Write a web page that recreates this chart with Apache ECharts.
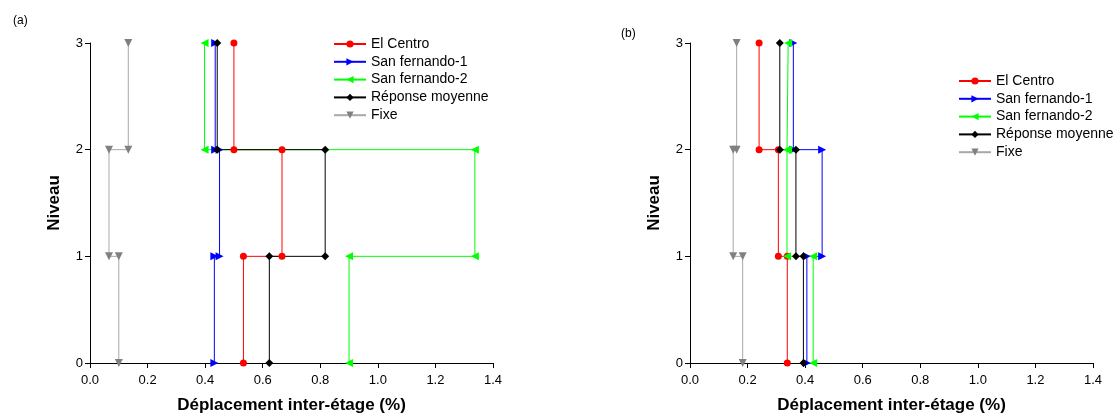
<!DOCTYPE html>
<html><head><meta charset="utf-8">
<script src="https://cdn.jsdelivr.net/npm/echarts@6/dist/echarts.min.js"></script>
<style>html,body{margin:0;padding:0;background:#fff}#c{width:1118px;height:416px}</style>
</head><body><div id="c"></div>
<script>
// Levels (floors) and legend names
const levels = [0, 1, 2, 3];
const seriesNames = ['El Centro', 'San fernando-1', 'San fernando-2', 'Réponse moyenne', 'Fixe'];
const xTickValues = [0, 0.2, 0.4, 0.6, 0.8, 1.0, 1.2, 1.4];

// Panel (a): inter-story drift (%) for stories 1, 2, 3
const a_elCentro = [0.533, 0.667, 0.500];
const a_sanFernando1 = [0.432, 0.450, 0.435];
const a_sanFernando2 = [0.900, 1.337, 0.398];
const a_moyenne = [0.623, 0.817, 0.442];
const a_fixe = [0.100, 0.066, 0.133];

// Panel (b): inter-story drift (%) for stories 1, 2, 3
const b_elCentro = [0.338, 0.307, 0.240];
const b_sanFernando1 = [0.406, 0.459, 0.359];
const b_sanFernando2 = [0.428, 0.337, 0.341];
const b_moyenne = [0.394, 0.368, 0.312];
const b_fixe = [0.183, 0.150, 0.162];

const styles = [
  {line: '#ff0000', mark: '#ff0000', symbol: 'circle', size: 7},
  {line: '#0000ff', mark: '#0000ff', symbol: 'path://M0,0 L10,5 L0,10 Z', size: 8},
  {line: '#00ff00', mark: '#00ff00', symbol: 'path://M10,0 L0,5 L10,10 Z', size: 8},
  {line: '#000000', mark: '#000000', symbol: 'path://M5,0 L10,5 L5,10 L0,5 Z', size: 8},
  {line: '#a8a8a8', mark: '#808080', symbol: 'path://M0,0 L10,0 L5,10 Z', size: 8}
];

function stepPoints(drifts) {
  const pts = [];
  for (let i = 0; i < drifts.length; i++) {
    pts.push([drifts[i], levels[i]]);
    pts.push([drifts[i], levels[i + 1]]);
  }
  return pts;
}

const panelData = [
  [a_elCentro, a_sanFernando1, a_sanFernando2, a_moyenne, a_fixe],
  [b_elCentro, b_sanFernando1, b_sanFernando2, b_moyenne, b_fixe]
];

const series = [];
panelData.forEach((arrs, p) => {
  arrs.forEach((d, k) => {
    const s = styles[k];
    series.push({
      type: 'line', name: seriesNames[k], xAxisIndex: p, yAxisIndex: p,
      data: stepPoints(d), symbol: s.symbol, symbolSize: s.size, showSymbol: true,
      lineStyle: {color: s.line, width: 1}, itemStyle: {color: s.mark},
      animation: false, clip: false, z: 2
    });
  });
});

const font = 'Arial, "Liberation Sans", Helvetica, sans-serif';
function xAxis(grid) {
  return {
    type: 'value', gridIndex: grid, min: 0, max: 1.4, interval: 0.2,
    name: 'Déplacement inter-étage (%)', nameLocation: 'middle', nameGap: 34,
    nameTextStyle: {fontFamily: font, fontWeight: 'bold', fontSize: 17, color: '#000'},
    axisLine: {show: true, onZero: false, lineStyle: {color: '#000', width: 1}},
    axisTick: {show: true, length: 5, lineStyle: {color: '#000'}},
    axisLabel: {fontFamily: font, fontSize: 13, color: '#000', margin: 11, formatter: v => v.toFixed(1)},
    splitLine: {show: false}
  };
}
function yAxis(grid) {
  return {
    type: 'value', gridIndex: grid, min: 0, max: 3, interval: 1,
    name: 'Niveau', nameLocation: 'middle', nameGap: 27, nameRotate: 90,
    nameTextStyle: {fontFamily: font, fontWeight: 'bold', fontSize: 17, color: '#000'},
    axisLine: {show: true, onZero: false, lineStyle: {color: '#000', width: 1}},
    axisTick: {show: true, length: 5, lineStyle: {color: '#000'}},
    axisLabel: {fontFamily: font, fontSize: 13, color: '#000', margin: 7},
    splitLine: {show: false}
  };
}

function legend(left, top) {
  return {
    data: seriesNames, orient: 'vertical', left: left, top: top, padding: 0,
    itemWidth: 32, itemHeight: 9, itemGap: 3.8,
    textStyle: {fontFamily: font, fontSize: 14, color: '#000', lineHeight: 12},
    selectedMode: false
  };
}

const chart = echarts.init(document.getElementById('c'), null, {renderer: 'canvas'});
chart.setOption({
  backgroundColor: '#fff',
  animation: false,
  title: [
    {text: '(a)', left: 8, top: 10, textStyle: {fontFamily: font, fontSize: 12, fontWeight: 'normal', color: '#000'}},
    {text: '(b)', left: 616, top: 23, textStyle: {fontFamily: font, fontSize: 12, fontWeight: 'normal', color: '#000'}}
  ],
  grid: [
    {left: 90, right: 625, top: 43, bottom: 53, containLabel: false, outerBoundsMode: 'none'},
    {left: 690, right: 25, top: 43, bottom: 53, containLabel: false, outerBoundsMode: 'none'}
  ],
  legend: [legend(333, 37), legend(958, 74)],
  xAxis: [xAxis(0), xAxis(1)],
  yAxis: [yAxis(0), yAxis(1)],
  series: series
});
</script></body></html>
